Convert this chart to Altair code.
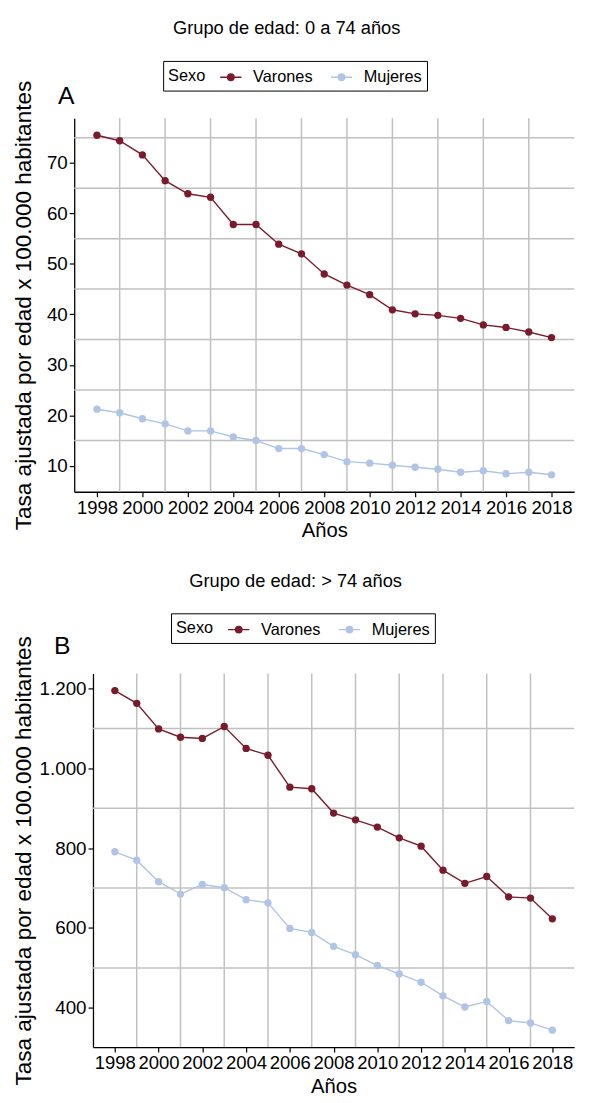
import altair as alt
import pandas as pd

F = "Liberation Sans"

years = list(range(1998, 2019))
a_varones = [75.5, 74.4, 71.6, 66.5, 63.9, 63.2, 57.8, 57.8, 53.9, 52.0, 48.0,
             45.8, 43.9, 40.9, 40.1, 39.8, 39.2, 37.9, 37.4, 36.5, 35.4]
a_mujeres = [21.2, 20.5, 19.3, 18.3, 16.9, 16.9, 15.7, 15.0, 13.4, 13.4, 12.2,
             10.8, 10.5, 10.1, 9.7, 9.3, 8.7, 9.0, 8.4, 8.7, 8.2]
b_varones = [1195, 1163, 1099, 1078, 1075, 1105, 1050, 1033, 953, 949, 888,
             871, 853, 826, 805, 745, 712, 729, 678, 675, 623]
b_mujeres = [791, 770, 716, 685, 709, 701, 671, 663, 599, 589, 554,
             533, 506, 485, 464, 430, 402, 416, 368, 362, 344]

sexo = ["Varones", "Mujeres"]
colors = ["#7a1b2b", "#b0c4e6"]
x_ticks = list(range(1998, 2019, 2))
x_grid = list(range(1999, 2018, 2))
a_ticks = [10, 20, 30, 40, 50, 60, 70]
a_grid = [15, 25, 35, 45, 55, 65, 75]
b_ticks = [400, 600, 800, 1000, 1200]
b_grid = [500, 700, 900, 1100]

YTITLE = "Tasa ajustada por edad x 100.000 habitantes"
SYMBOL = "M-1,0L1,0M0.3,0A0.3,0.3,0,1,1,-0.3,0A0.3,0.3,0,1,1,0.3,0Z"
W = 487
H = 378


def panel(title, letter, vals_v, vals_m, ydom, yticks, ygrid, xoff, tpad, tdx,
          legX, legY, letX, letY):
    df = pd.DataFrame({
        "Año": years * 2,
        "Tasa": vals_v + vals_m,
        "Sexo": ["Varones"] * len(years) + ["Mujeres"] * len(years),
    })
    xs = alt.Scale(domain=[1997, 2019], range=[-xoff, W], nice=False, zero=False)
    ys = alt.Scale(domain=ydom, nice=False, zero=False)
    xaxis = alt.Axis(values=x_ticks, format="d", grid=False, domainColor="black",
                     domainWidth=1.3, tickColor="black", tickWidth=1.2, tickSize=5,
                     labelFontSize=18.7, labelColor="black", labelFont=F,
                     labelOverlap=False, labelFlush=False, labelPadding=2,
                     title="Años", titleFontSize=20.5, titleFont=F,
                     titleFontWeight="normal", titleColor="black", titlePadding=4)
    yaxis = alt.Axis(values=yticks, grid=False, domainColor="black", offset=xoff,
                     domainWidth=1.3, tickColor="black", tickWidth=1.2, tickSize=5,
                     labelFontSize=19, labelColor="black", labelFont=F,
                     labelOverlap=False, labelPadding=2,
                     labelExpr="replace(format(datum.value, ','), ',', '.')",
                     title=YTITLE, titleFontSize=22.8, titleFont=F,
                     titleFontWeight="normal", titleColor="black",
                     titlePadding=tpad)
    X = alt.X("Año:Q", scale=xs, axis=xaxis)
    Y = alt.Y("Tasa:Q", scale=ys, axis=yaxis)
    gridstyle = dict(color="#c0c0c0", strokeWidth=1.5)
    vgrid = alt.Chart(pd.DataFrame({"Año": x_grid})).mark_rule(**gridstyle).encode(x=X)
    hgrid = alt.Chart(pd.DataFrame({"Tasa": ygrid})).mark_rule(**gridstyle).encode(
        y=Y, x=alt.value(-xoff), x2=alt.value(W))
    color = alt.Color(
        "Sexo:N",
        scale=alt.Scale(domain=sexo, range=colors),
        legend=alt.Legend(orient="none", legendX=legX, legendY=legY,
                          direction="horizontal", title="Sexo", titleOrient="left",
                          titleFontSize=16.5, titleFont=F, titleFontWeight="normal",
                          titleColor="black", titleAnchor="middle",
                          titleBaseline="middle",
                          labelFontSize=16.5, labelFont=F, labelColor="black",
                          symbolType=SYMBOL, symbolSize=460, symbolStrokeWidth=1.5,
                          strokeColor="black", fillColor="white", padding=5,
                          titlePadding=14, columnPadding=14, labelOffset=11),
    )
    line = alt.Chart(df).mark_line(strokeWidth=1.4).encode(x=X, y=Y, color=color)
    pts = alt.Chart(df).mark_point(filled=True, size=55, opacity=1).encode(
        x=X, y=Y, color=color)
    let = alt.Chart(pd.DataFrame({"t": [letter]})).mark_text(
        fontSize=25, font=F, align="center", baseline="middle", color="black"
    ).encode(text="t:N", x=alt.value(letX), y=alt.value(letY))
    return alt.layer(vgrid, hgrid, line, pts, let).properties(
        width=W, height=H,
        title=alt.TitleParams(title, fontSize=18.5, font=F, fontWeight="normal",
                              color="black", anchor="middle", frame="group",
                              dx=tdx, offset=23),
    )


A = panel("Grupo de edad: 0 a 74 años", "A", a_varones, a_mujeres,
          [4.835, 78.865], a_ticks, a_grid, 19, 11, -47.5, 71, -58, -27, -22)
B = panel("Grupo de edad: > 74 años", "B", b_varones, b_mujeres,
          [301.45, 1237.55], b_ticks, b_grid, 0, 4, -38.5, 79, -61, -31, -28)

chart = alt.vconcat(A, B, spacing=30).resolve_scale(
    color="independent"
).resolve_legend(color="independent").configure_view(
    stroke=None
).properties(padding={"left": 4, "top": 5, "right": 0, "bottom": 0})

chart.save("out.html", embed_options={"renderer": "svg", "actions": False})
